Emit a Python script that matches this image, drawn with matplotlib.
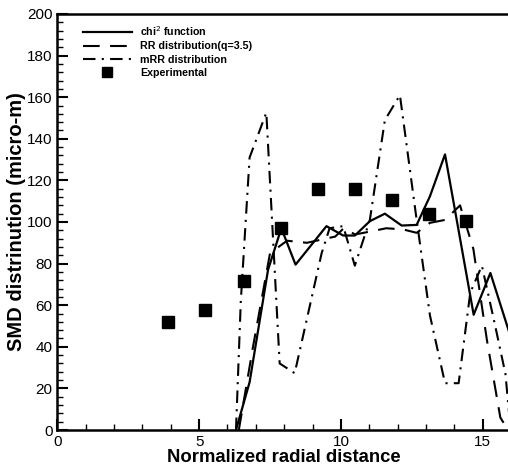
import matplotlib

matplotlib.use("Agg")
import matplotlib.pyplot as plt
from matplotlib.ticker import MultipleLocator

plt.rcParams["font.family"] = ["Liberation Sans", "DejaVu Sans"]

# chi^2 function
chi_x = [6.3, 6.78, 7.43, 7.9, 8.4, 9.49, 10.08, 10.49, 11.02, 11.55, 12.14, 12.67, 13.14, 13.67, 14.68, 15.27, 15.91, 16.0]
chi_y = [0, 23, 77, 97, 79.5, 98, 93.5, 93.5, 100.4, 104, 98.3, 98.6, 112.4, 132.5, 55.4, 75.5, 48, 44]

# RR distribution (q=3.5)
rr_x = [6.4, 6.9, 7.5, 8.1, 8.8, 9.8, 10.1, 10.5, 11.1, 11.6, 12.2, 12.67, 13.14, 13.67, 14.2, 14.67, 15.15, 15.62, 15.8]
rr_y = [0, 40, 85, 91, 90, 93, 97, 94, 95.6, 97, 96.4, 94.8, 99.6, 101, 108, 87, 43, 6, 2]

# mRR distribution
mrr_x = [6.3, 6.47, 6.78, 7.37, 7.84, 8.37, 9.32, 9.6, 10.08, 10.49, 11.02, 11.55, 12.08, 12.67, 13.14, 13.67, 14.15, 14.56, 14.97, 15.44, 15.8, 15.95]
mrr_y = [0, 62, 131, 152.6, 32, 27.3, 85, 97, 98, 79, 101, 149, 161, 101, 55, 22.5, 22.5, 66, 79, 50, 27, 5]

# Experimental
exp_x = [3.9, 5.2, 6.6, 7.9, 9.2, 10.5, 11.8, 13.1, 14.4]
exp_y = [52, 57.5, 71.5, 97, 116, 116, 110.5, 104, 100.5]

fig = plt.figure(figsize=(5.08, 4.73), dpi=100)
ax = fig.add_axes([57.3 / 508, 1 - 430 / 473, 453.8 / 508, 416 / 473])

ax.plot(chi_x, chi_y, color="black", lw=1.6, label="chi$^2$ function")
ax.plot(rr_x, rr_y, color="black", lw=1.5, ls=(0, (8, 5)), label="RR distribution(q=3.5)")
ax.plot(mrr_x, mrr_y, color="black", lw=1.5, ls=(0, (6, 3, 1, 3)), label="mRR distribution")
ax.plot(exp_x, exp_y, ls="none", marker="s", ms=8, color="black", label="Experimental")

ax.set_xlim(0, 16)
ax.set_ylim(0, 200)
ax.xaxis.set_major_locator(MultipleLocator(5))
ax.xaxis.set_minor_locator(MultipleLocator(1))
ax.yaxis.set_major_locator(MultipleLocator(20))
ax.yaxis.set_minor_locator(MultipleLocator(4))
ax.tick_params(which="major", direction="in", length=8, width=1.5, labelsize=11, top=False, right=False)
ax.tick_params(which="minor", direction="in", length=4, width=1, top=False, right=False)
for side in ["left", "bottom", "top"]:
    ax.spines[side].set_linewidth(1.8)
ax.spines["right"].set_visible(False)

ax.set_xlabel("Normalized radial distance", fontsize=13.3, fontweight="bold", labelpad=0)
ax.set_ylabel("SMD distrinution (micro-m)", fontsize=14.5, fontweight="bold", labelpad=1)

leg = ax.legend(loc="upper left", bbox_to_anchor=(0.056, 0.975), frameon=False,
                prop={"size": 7.7, "weight": "bold"}, handlelength=4.6, markerscale=0.9,
                labelspacing=0.3, handletextpad=0.75, borderaxespad=0, borderpad=0)

fig.savefig("out.png")
